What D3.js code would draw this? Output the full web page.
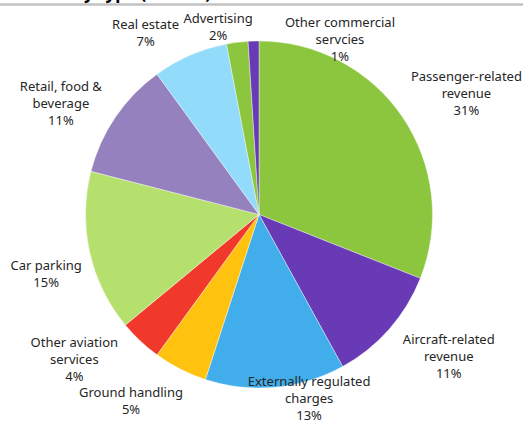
<!DOCTYPE html>
<html>
<head>
<meta charset="utf-8">
<script src="https://cdn.jsdelivr.net/npm/d3@7/dist/d3.min.js"></script>
<style>
  html, body { margin: 0; padding: 0; background: #fff; }
  svg { display: block; }
  text { font-family: "Noto Sans", "Open Sans", sans-serif; fill: #262626; }
</style>
</head>
<body>
<svg id="chart" width="523" height="423"></svg>
<script>
// Revenue mix by type, clockwise from 12 o'clock
const categories = [
  ["Passenger-related", "revenue"],
  ["Aircraft-related", "revenue"],
  ["Externally regulated", "charges"],
  ["Ground handling"],
  ["Other aviation", "services"],
  ["Car parking"],
  ["Retail, food &", "beverage"],
  ["Real estate"],
  ["Advertising"],
  ["Other commercial", "servcies"]
];
const shares = [31, 11, 13, 5, 4, 15, 11, 7, 2, 1];
const colours = ["#8cc63e", "#683ab6", "#41adea", "#ffc30f", "#f0392b",
                 "#b5e06d", "#9581bd", "#93dbfb", "#8cc63e", "#683ab6"];
const titleText = "Revenue by type (FY2019)";

const svg = d3.select("#chart");
const cx = 259, cy = 214.5, radius = 173.5;

// Title line, clipped by the top edge, and rule beneath it
svg.append("text")
  .attr("x", 211).attr("y", -1)
  .attr("text-anchor", "end")
  .style("font-weight", "700")
  .style("font-size", "17px")
  .style("fill", "#000")
  .text(titleText);
svg.append("rect")
  .attr("x", 0).attr("y", 3.3).attr("width", 523).attr("height", 2.4)
  .attr("fill", "#c0c0c0");

const rows = categories.map((c, i) => ({ lines: c, value: shares[i], colour: colours[i] }));

const pie = d3.pie().sort(null).value(d => d.value);
const arc = d3.arc().innerRadius(0).outerRadius(radius);
const arcs = pie(rows);

const g = svg.append("g").attr("transform", `translate(${cx},${cy})`);

g.selectAll("path.slice")
  .data(arcs)
  .join("path")
  .attr("class", "slice")
  .attr("d", arc)
  .attr("fill", d => d.data.colour)
  .attr("stroke", "#ffffff")
  .attr("stroke-width", 0.4);

// Label placement: angular shift (deg) from slice mid-angle and distance from centre
const labelPlacement = {
  "Passenger-related": [4, 240],
  "Aircraft-related": [-4.6, 237],
  "Externally regulated": [-9.8, 191],
  "Ground handling": [7.5, 226],
  "Other aviation": [8.6, 235],
  "Car parking": [-3, 221],
  "Retail, food &": [-5, 227],
  "Real estate": [-8.6, 214],
  "Advertising": [-5.1, 192],
  "Other commercial": [26.6, 193]
};

const lineHeight = 17;
const labels = g.selectAll("text.lbl")
  .data(arcs)
  .join("text")
  .attr("class", "lbl")
  .attr("text-anchor", "middle")
  .style("font-size", "13px")
  .each(function (d) {
    const [shift, dist] = labelPlacement[d.data.lines[0]];
    const a = (d.startAngle + d.endAngle) / 2 + shift * Math.PI / 180;
    const x = dist * Math.sin(a);
    const y = -dist * Math.cos(a);
    const lines = d.data.lines.concat([d.data.value + "%"]);
    const top = y - (lines.length - 1) * lineHeight / 2;
    const t = d3.select(this);
    lines.forEach((ln, k) => {
      t.append("tspan")
        .attr("x", x)
        .attr("y", top + k * lineHeight)
        .attr("dy", "0.35em")
        .text(ln);
    });
  });
</script>
</body>
</html>
